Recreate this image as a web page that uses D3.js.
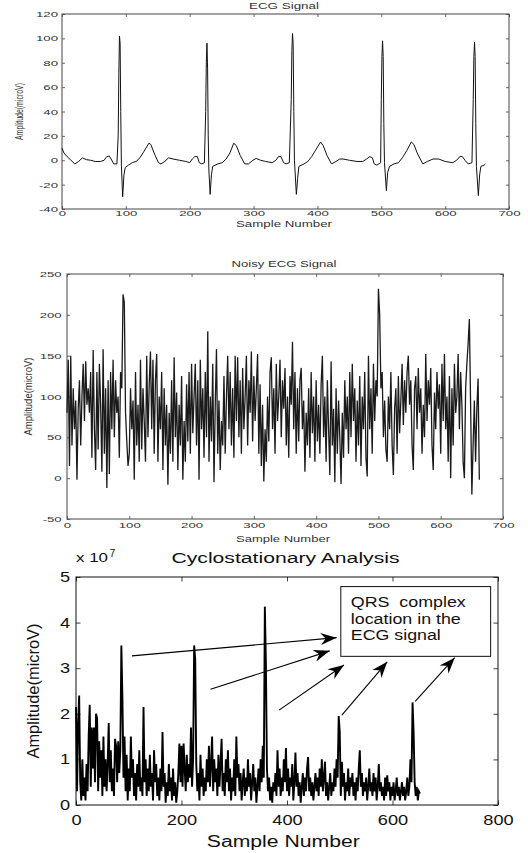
<!DOCTYPE html>
<html>
<head>
<meta charset="utf-8">
<script src="https://cdn.jsdelivr.net/npm/d3@7"></script>
<style>
  html, body { margin: 0; padding: 0; background: #fff; }
  svg { display: block; font-family: Arial, "Liberation Sans", sans-serif; }
</style>
</head>
<body>
<svg id="chart" width="528" height="853"></svg>
<script>
// ECG signal (clean): sample number / amplitude in microV
const ecgSamples = [0, 3, 8, 14, 20, 26, 32, 38, 45, 52, 60, 66, 70, 74, 78, 81, 86, 88, 89, 90, 91, 92, 93, 95, 97, 99,
  104, 110, 116, 122, 128, 136, 139, 145, 151, 155, 161, 167, 174, 184, 194, 200, 204, 208, 212, 215, 219, 223,
  225, 226, 227, 228, 229, 230, 232, 234, 236, 244, 251, 257, 263, 269, 273, 279, 286, 292, 299, 304, 311, 319,
  329, 335, 339, 343, 347, 351, 356, 359, 360, 361, 362, 363, 364, 367, 369, 371, 379, 385, 391, 398, 405, 409,
  415, 422, 429, 435, 440, 450, 462, 471, 477, 482, 486, 489, 493, 499, 500, 501, 502, 503, 504, 505, 508, 510,
  513, 520, 527, 533, 540, 547, 551, 557, 565, 572, 581, 590, 600, 612, 618, 623, 627, 631, 636, 642, 644, 645,
  646, 647, 648, 649, 652, 654, 656, 661, 663];
const ecgAmplitude = [10, 6, 3, 0, -3, -1, 2, 0.5, 0, -1, -1, 0, 3, 3.5, 0, -3, -3, 20, 70, 102, 96, 40, -4, -30, -12, -6,
  -4, -2, -1, 2, 7, 14, 13, 5, -2, -3, -1, 2, 1, 0, -1, -2, 1, 3, 3, -2, -3, -2,
  40, 80, 96, 75, 20, -8, -28, -12, -5, -3, -2, 1, 6, 14, 12, 4, -3, -3, 0, 1.5, 0, -1,
  -2, 0, 3, 3, -2, -3, -2, 50, 90, 104, 95, 40, 0, -28, -15, -5, -3, -1, 3, 9, 15, 12,
  4, -3, -1, 1, 1, 0, -1, -1, 1, 3, 2, -3, -4, -2, 50, 85, 98, 85, 30, -2, -25, -10,
  -5, -3, -2, 2, 8, 15, 13, 5, -3, -1, 1, 1, -1, -2, 0, 3, 3, 0, -3, -2, 50, 85,
  97, 85, 30, -5, -29, -12, -5, -4, -3];

// Noisy ECG signal, every 2nd sample from 0
const noisyStart = 0, noisyStep = 2;
const noisyAmplitude = [
  80, 145, 15, 150, 40, 110, 60, 95, -2, 85,
  120, 40, 100, 140, 70, 143, 90, 110, 80, 130,
  25, 157, 60, 10, 130, 35, 140, 90, 8, 158,
  30, 110, -12, 120, 5, 130, 60, 145, 50, 120,
  80, 100, 25, 130, 110, 225, 215, 80, 45, 15,
  30, 110, 60, 95, -2, 130, 40, 90, 20, 145,
  35, 110, 70, 20, 150, 50, 115, 155, 60, 145,
  30, 120, 152, 20, 100, 60, 130, 10, 110, 40,
  90, -8, 80, 30, 120, 20, 148, 50, 105, 10,
  90, 40, 125, -2, 70, 20, 115, 45, 130, 30,
  140, 55, 100, 140, 40, 120, -2, 145, 60, 110,
  25, 130, 50, 180, 20, 100, 45, 140, -5, 90,
  158, 30, 95, 10, 70, 40, 125, 30, 100, 150,
  60, 130, 40, 110, 25, 150, 70, 148, 50, 120,
  30, 135, 60, 100, 150, 40, 120, 80, 155, 45,
  125, 70, 110, 152, 30, 115, 15, 90, -4, 60,
  20, 100, 45, 130, 148, 60, 110, 30, 140, 70,
  100, 145, 50, 120, 85, 135, 40, 100, 25, 125,
  90, 167, 60, 130, 30, 110, 45, 120, 135, 60,
  95, 8, 80, 40, 110, 25, 130, 55, 100, 20,
  120, 45, 90, 30, 115, 150, 50, 100, 20, 120,
  60, 4, 143, 40, 85, -5, 110, 30, 95, 50,
  -7, 80, 25, 120, 60, 100, 30, 130, 50, 140,
  70, 110, 20, 95, 40, 125, 15, 100, 60, 130,
  25, 2, 150, 60, 110, 30, 140, 70, 120, 100,
  232, 200, 110, 130, 50, 95, 35, 20, 100, 60,
  130, 40, 4, 85, 110, 30, 125, 55, 95, 140,
  65, 120, 80, 130, 150, 90, 120, 40, 10, 110,
  125, 60, 135, 80, 110, 30, 90, 50, 152, 70,
  120, 90, 135, 40, 10, 105, 60, 130, 85, 115,
  30, 140, 70, 152, 60, 100, 20, 125, 0, 110,
  40, 140, 80, 100, 152, 60, 130, 90, 20, 0,
  110, 140, 165, 195, 90, -20, 40, 95, 20, 85,
  122, -2];

// Cyclostationary analysis output (x 10^7), every 2nd sample from 0
const cycloStart = 0, cycloStep = 2;
const cycloAmplitude = [
  2.15, 0.3, 1.8, 2.4, 0.5, 0.1, 1.0, 0.2, 0.6, 0.1,
  0.9, 0.3, 1.5, 2.2, 0.4, 1.7, 0.8, 1.7, 0.5, 2.0,
  1.9, 0.3, 1.4, 0.6, 1.2, 0.2, 1.5, 0.4, 1.0, 0.3,
  0.9, 1.8, 0.5, 1.2, 0.3, 0.8, 0.2, 1.45, 1.3, 0.5,
  1.4, 0.7, 1.2, 3.5, 2.35, 0.6, 1.5, 0.3, 1.1, 0.1,
  0.8, 0.3, 1.5, 0.6, 1.0, 0.2, 0.7, 0.1, 0.9, 0.4,
  1.2, 0.3, 0.6, 0.2, 2.15, 0.5, 1.0, 0.2, 0.8, 0.3,
  1.1, 0.4, 0.7, 0.1, 1.2, 0.5, 0.9, 0.2, 0.6, 0.1,
  0.8, 0.3, 1.6, 0.4, 0.7, 0.05, 0.5, 0.2, 0.9, 0.3,
  0.6, 0.1, 0.8, 0.2, 0.5, 0.05, 0.3, 0.7, 1.35, 0.5,
  1.3, 0.4, 1.35, 0.8, 0.3, 1.1, 0.5, 0.9, 0.6, 1.7,
  0.4, 1.0, 3.5, 3.2, 0.9, 0.3, 0.7, 0.1, 1.1, 0.4,
  0.8, 0.2, 0.6, 0.3, 1.0, 0.5, 1.3, 0.4, 0.9, 1.5,
  0.3, 1.0, 0.5, 0.8, 0.2, 1.1, 0.4, 0.9, 1.45, 0.3,
  0.7, 0.2, 1.0, 0.5, 1.2, 0.3, 0.8, 0.1, 0.6, 0.3,
  1.0, 0.2, 1.5, 0.6, 0.9, 0.3, 0.7, 0.1, 0.5, 0.8,
  0.2, 0.6, 0.3, 1.0, 0.4, 0.7, 0.1, 0.5, 0.9, 0.3,
  0.6, 0.05, 0.4, 0.8, 0.3, 1.0, 0.5, 1.3, 0.6, 4.35,
  3.1, 0.8, 0.3, 0.6, 0.1, 0.4, 0.05, 0.5, 0.3, 0.7,
  0.2, 1.2, 0.4, 0.8, 0.2, 0.6, 0.3, 1.0, 0.5, 1.25,
  0.3, 0.8, 0.2, 0.6, 0.4, 0.9, 0.1, 0.5, 1.15, 0.4,
  0.7, 0.2, 0.5, 0.05, 0.4, 0.7, 0.2, 0.6, 0.3, 0.8,
  1.05, 0.3, 0.6, 0.2, 0.5, 0.1, 0.4, 0.7, 0.3, 0.6,
  0.2, 0.8, 0.4, 1.0, 0.3, 0.6, 0.95, 0.2, 0.5, 0.1,
  0.4, 0.7, 0.2, 0.5, 0.3, 0.8, 0.4, 1.0, 0.6, 1.95,
  1.6, 0.2, 0.95, 0.4, 0.7, 0.1, 0.5, 0.3, 0.8, 0.2,
  0.6, 0.4, 0.7, 0.2, 0.5, 0.1, 0.6, 0.3, 0.8, 1.2,
  0.4, 0.7, 0.2, 0.5, 0.3, 0.6, 0.1, 0.4, 0.8, 0.3,
  0.5, 0.2, 0.7, 0.3, 0.6, 0.1, 0.4, 0.9, 0.3, 0.5,
  0.2, 0.4, 0.1, 0.6, 0.2, 0.65, 0.3, 0.5, 0.1, 0.4,
  0.2, 0.5, 0.1, 0.3, 0.6, 0.2, 0.4, 0.1, 0.3, 0.5,
  0.2, 0.4, 0.1, 0.3, 0.6, 0.2, 0.4, 1.0, 0.5, 2.25,
  1.6, 0.5, 0.2, 0.4, 0.1, 0.3, 0.25];

// tick values
const ecgXTicks = [0, 100, 200, 300, 400, 500, 600, 700];
const ecgYTicks = [-40, -20, 0, 20, 40, 60, 80, 100, 120];
const noisyYTicks = [-50, 0, 50, 100, 150, 200, 250];
const cycloXTicks = [0, 200, 400, 600, 800];
const cycloYTicks = [0, 1, 2, 3, 4, 5];

// annotation: box and arrows (sample number, amplitude x 10^7)
const noteLines = ["QRS  complex", "location in the", "ECG signal"];
const noteBox = { x0: 502, x1: 786, y0: 4.79, y1: 3.26 };
const arrowFrom = [[106, 3.27], [255, 2.54], [385, 2.08], [504, 1.97], [643, 2.27]];
const arrowTo = [[494, 3.67], [481, 3.38], [508, 3.07], [590, 3.14], [718, 3.23]];

const svg = d3.select("#chart");

function panel(c) {
  const g = svg.append("g");
  const x = d3.scaleLinear().domain(c.xDomain).range([c.left, c.right]);
  const y = d3.scaleLinear().domain(c.yDomain).range([c.bottom, c.top]);
  const fmt = (d) => String(d);

  const styleAxis = (a) => {
    a.select(".domain").remove();
    a.attr("font-family", null).attr("font-size", c.tickFont);
    a.selectAll(".tick line").attr("stroke", c.frame).attr("stroke-width", 0.8);
    a.selectAll("text").attr("fill", c.textColor);
  };

  const bottom = g.append("g").attr("transform", `translate(0,${c.bottom})`)
    .call(d3.axisBottom(x).tickValues(c.xTicks).tickFormat(fmt)
      .tickSizeInner(-c.tick).tickSizeOuter(0).tickPadding(c.xPad));
  styleAxis(bottom);
  bottom.selectAll("text").attr("transform", `scale(${c.sx},1)`);

  const left = g.append("g").attr("transform", `translate(${c.left},0)`)
    .call(d3.axisLeft(y).tickValues(c.yTicks).tickFormat(fmt)
      .tickSizeInner(-c.tick).tickSizeOuter(0));
  styleAxis(left);
  left.selectAll("text").attr("x", -c.yPad / c.sx).attr("transform", `scale(${c.sx},1)`);

  const top = g.append("g").attr("transform", `translate(0,${c.top})`)
    .call(d3.axisTop(x).tickValues(c.xTicks).tickFormat("").tickSizeInner(-c.tick).tickSizeOuter(0));
  styleAxis(top);
  const right = g.append("g").attr("transform", `translate(${c.right},0)`)
    .call(d3.axisRight(y).tickValues(c.yTicks).tickFormat("").tickSizeInner(-c.tick).tickSizeOuter(0));
  styleAxis(right);

  g.append("rect")
    .attr("x", c.left).attr("y", c.top)
    .attr("width", c.right - c.left).attr("height", c.bottom - c.top)
    .attr("fill", "none").attr("stroke", c.frame).attr("stroke-width", c.frameWidth);

  const line = d3.line().x((d) => x(d[0])).y((d) => y(d[1]));
  g.append("path")
    .datum(c.points)
    .attr("d", line)
    .attr("fill", "none")
    .attr("stroke", c.lineColor)
    .attr("stroke-width", c.lineWidth)
    .attr("stroke-linejoin", "miter");

  const label = (txt, cx, cy, size, len, rot) => {
    g.append("text")
      .attr("transform", `translate(${cx},${cy})` + (rot ? " rotate(-90)" : ""))
      .attr("text-anchor", "middle")
      .attr("font-size", size)
      .attr("fill", c.textColor)
      .attr("textLength", len)
      .attr("lengthAdjust", "spacingAndGlyphs")
      .text(txt);
  };
  label(c.title, c.titleX, c.titleY, c.titleFont, c.titleLen, false);
  label("Sample Number", c.xlabX, c.xlabY, c.labFont, c.xlabLen, false);
  label("Amplitude(microV)", c.ylabX, (c.top + c.bottom) / 2, c.ylabFont, c.ylabLen, true);

  return { g, x, y };
}

const ecgPoints = ecgSamples.map((s, i) => [s, ecgAmplitude[i]]);
const noisyPoints = noisyAmplitude.map((v, i) => [noisyStart + i * noisyStep, v]);
const cycloPoints = cycloAmplitude.map((v, i) => [cycloStart + i * cycloStep, v]);

panel({
  left: 62, right: 509, top: 14, bottom: 209,
  xDomain: [0, 700], yDomain: [-40, 120], xTicks: ecgXTicks, yTicks: ecgYTicks,
  tick: 3, xPad: 1.5, yPad: 4, tickFont: 8, sx: 1.65,
  frame: "#444", frameWidth: 1, textColor: "#333",
  points: ecgPoints, lineColor: "#111", lineWidth: 1,
  title: "ECG Signal", titleX: 284, titleY: 9, titleFont: 9, titleLen: 70,
  xlabX: 284, xlabY: 226.5, labFont: 8.5, xlabLen: 96,
  ylabX: 22.5, ylabFont: 10, ylabLen: 57
});

panel({
  left: 67, right: 503, top: 274, bottom: 519,
  xDomain: [0, 700], yDomain: [-50, 250], xTicks: ecgXTicks, yTicks: noisyYTicks,
  tick: 3, xPad: 3.5, yPad: 5.3, tickFont: 8, sx: 1.65,
  frame: "#444", frameWidth: 1, textColor: "#333",
  points: noisyPoints, lineColor: "#1a1a1a", lineWidth: 1.3,
  title: "Noisy ECG Signal", titleX: 284, titleY: 267, titleFont: 9, titleLen: 105,
  xlabX: 283, xlabY: 542, labFont: 8.5, xlabLen: 94,
  ylabX: 31.5, ylabFont: 10.5, ylabLen: 78
});

const p3 = panel({
  left: 76, right: 498, top: 577, bottom: 805,
  xDomain: [0, 800], yDomain: [0, 5], xTicks: cycloXTicks, yTicks: cycloYTicks,
  tick: 4.5, xPad: 10, yPad: 6, tickFont: 14, sx: 1.3,
  frame: "#111", frameWidth: 1, textColor: "#111",
  points: cycloPoints, lineColor: "#000", lineWidth: 1.9,
  title: "Cyclostationary Analysis", titleX: 285.5, titleY: 563, titleFont: 15.5, titleLen: 228,
  xlabX: 283.3, xlabY: 846.5, labFont: 16, xlabLen: 153,
  ylabX: 38.5, ylabFont: 16, ylabLen: 135
});

// exponent label
const expo = p3.g.append("text").attr("fill", "#111");
expo.append("tspan").attr("x", 76).attr("y", 561.7).attr("font-size", 12.5)
  .attr("textLength", 32).attr("lengthAdjust", "spacingAndGlyphs").text("x 10");
expo.append("tspan").attr("x", 109.5).attr("y", 556.7).attr("font-size", 10.5).text("7");

// annotation box
const bx = p3.x, by = p3.y;
p3.g.append("rect")
  .attr("x", bx(noteBox.x0)).attr("y", by(noteBox.y0))
  .attr("width", bx(noteBox.x1) - bx(noteBox.x0))
  .attr("height", by(noteBox.y1) - by(noteBox.y0))
  .attr("fill", "#fff").attr("stroke", "#111").attr("stroke-width", 1);

const noteLen = [115, 110, 90];
noteLines.forEach((t, i) => {
  p3.g.append("text")
    .attr("x", bx(noteBox.x0) + 10)
    .attr("y", by(noteBox.y0) + 20.5 + i * 16.7)
    .attr("font-size", 14)
    .attr("fill", "#111")
    .attr("textLength", noteLen[i])
    .attr("lengthAdjust", "spacingAndGlyphs")
    .style("white-space", "pre")
    .text(t);
});

// arrows
svg.append("defs").append("marker")
  .attr("id", "head")
  .attr("markerUnits", "userSpaceOnUse")
  .attr("viewBox", "-17 -7 18 14")
  .attr("refX", 0).attr("refY", 0)
  .attr("markerWidth", 18).attr("markerHeight", 14)
  .attr("orient", "auto")
  .append("path")
  .attr("d", "M0,0 L-16,-6 L-11,0 L-16,6 Z")
  .attr("fill", "#000");

arrowFrom.forEach((f, i) => {
  const t = arrowTo[i];
  p3.g.append("line")
    .attr("x1", bx(f[0])).attr("y1", by(f[1]))
    .attr("x2", bx(t[0])).attr("y2", by(t[1]))
    .attr("stroke", "#000").attr("stroke-width", 1.1)
    .attr("marker-end", "url(#head)");
});
</script>
</body>
</html>
